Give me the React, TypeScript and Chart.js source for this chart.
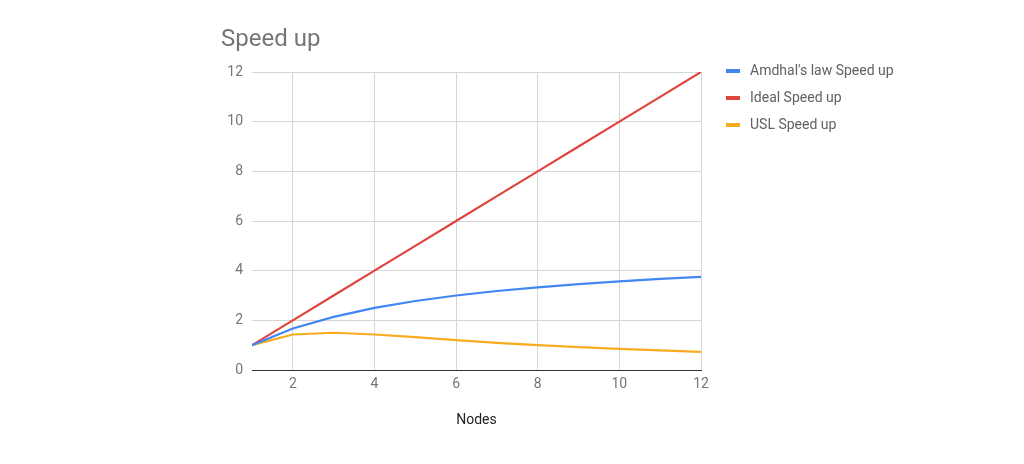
import React, { useEffect, useRef } from "react";
import { Chart, registerables } from "chart.js";

Chart.register(...registerables);

const nodes = [1, 2, 3, 4, 5, 6, 7, 8, 9, 10, 11, 12];
const amdahlSpeedup = [1, 1.67, 2.14, 2.5, 2.78, 3.0, 3.18, 3.33, 3.46, 3.57, 3.67, 3.75];
const idealSpeedup = [1, 2, 3, 4, 5, 6, 7, 8, 9, 10, 11, 12];
const uslSpeedup = [1, 1.43, 1.5, 1.43, 1.32, 1.2, 1.09, 1.0, 0.92, 0.85, 0.79, 0.73];
const xTicks = [2, 4, 6, 8, 10, 12];
const yTicks = [0, 2, 4, 6, 8, 10, 12];
const seriesLabels = ["Amdhal's law Speed up", "Ideal Speed up", "USL Speed up"];
const seriesColors = ["#4285F4", "#E0443C", "#F9AB1F"];
const chartTitle = "Speed up";
const xAxisTitle = "Nodes";

const FONT = "Roboto";

const overlayPlugin = {
  id: "overlay",
  afterDraw(chart: any) {
    const ctx = chart.ctx;
    ctx.save();
    ctx.font = `24px ${FONT}`;
    ctx.fillStyle = "#757575";
    ctx.textAlign = "left";
    ctx.textBaseline = "alphabetic";
    ctx.fillText(chartTitle, 221, 46);
    ctx.font = `14px ${FONT}`;
    ctx.textBaseline = "middle";
    chart.data.datasets.forEach((ds: any, i: number) => {
      const y = 71 + i * 27;
      ctx.fillStyle = ds.borderColor;
      ctx.fillRect(726, y - 2, 14, 4);
      ctx.fillStyle = "#616161";
      ctx.fillText(ds.label, 750, y);
    });
    ctx.restore();
  },
};

export default function App() {
  const canvasRef = useRef<HTMLCanvasElement | null>(null);

  useEffect(() => {
    if (!canvasRef.current) return;
    const mk = (vals: number[]) => nodes.map((x, i) => ({ x, y: vals[i] }));
    const series = [amdahlSpeedup, idealSpeedup, uslSpeedup];
    const chart = new Chart(canvasRef.current, {
      type: "line",
      data: {
        datasets: series.map((vals, i) => ({
          label: seriesLabels[i],
          data: mk(vals),
          borderColor: seriesColors[i],
          backgroundColor: seriesColors[i],
          borderWidth: 2.2,
          pointRadius: 0,
          tension: 0,
          fill: false,
        })),
      },
      options: {
        animation: false,
        responsive: false,
        maintainAspectRatio: false,
        layout: { padding: { left: 0, right: 323, top: 72, bottom: 0 } },
        plugins: {
          legend: { display: false },
          title: { display: false },
          tooltip: { enabled: false },
        },
        scales: {
          x: {
            type: "linear",
            min: 1,
            max: 12,
            afterBuildTicks: (scale: any) => {
              scale.ticks = xTicks.map((v) => ({ value: v }));
            },
            afterFit: (scale: any) => {
              scale.height = 94;
            },
            grid: { color: "#d6d6d6", drawTicks: false, lineWidth: 1 },
            border: { display: true, color: "#333333", width: 1 },
            ticks: {
              color: "#757575",
              font: { family: FONT, size: 14 },
              padding: 6,
              maxRotation: 0,
            },
            title: {
              display: true,
              text: xAxisTitle,
              color: "#222222",
              font: { family: FONT, size: 14 },
              padding: { top: 4, bottom: 35 },
            },
          },
          y: {
            type: "linear",
            min: 0,
            max: 12,
            afterBuildTicks: (scale: any) => {
              scale.ticks = yTicks.map((v) => ({ value: v }));
            },
            afterFit: (scale: any) => {
              scale.width = 252;
            },
            grid: {
              color: (c: any) => (c.tick && c.tick.value === 0 ? "#333333" : "#d6d6d6"),
              drawTicks: false,
              lineWidth: 1,
            },
            border: { display: false },
            ticks: {
              color: "#757575",
              font: { family: FONT, size: 14 },
              padding: 9,
            },
          },
        },
      },
      plugins: [overlayPlugin],
    } as any);
    return () => chart.destroy();
  }, []);

  return (
    <div style={{ position: "fixed", left: 0, top: 0, width: 1024, height: 464, background: "#fff" }}>
      <canvas ref={canvasRef} width={1024} height={464} style={{ width: 1024, height: 464 }} />
    </div>
  );
}
